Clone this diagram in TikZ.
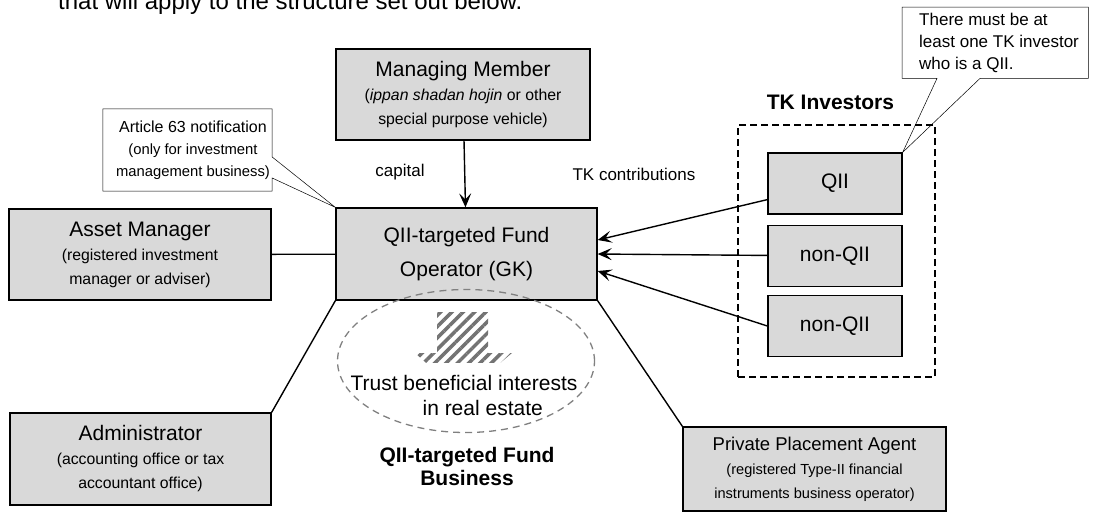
\documentclass[tikz,border=0pt]{standalone}
\usepackage{fontspec}
\setmainfont{Liberation Sans}
\usepackage{tikz}
\usetikzlibrary{shapes.geometric, arrows.meta, patterns.meta}
\newcommand{\subtxt}[1]{{\fontsize{15.8}{24}\selectfont #1}}
\tikzstyle{entity}   = [rectangle, draw=black, line width=1.3pt, fill=black!15,
                        inner sep=0pt, align=center,
                        font=\fontsize{21}{24}\selectfont]
\tikzstyle{investor} = [entity, minimum width=134pt, minimum height=61pt]
\tikzstyle{note}     = [inner sep=0pt, font=\fontsize{17}{22}\selectfont]
\tikzstyle{outline}  = [draw=black, line width=0.5pt]
\tikzstyle{arrow}    = [line width=1.4pt, -{Stealth[length=14pt, width=12pt, inset=6pt]}]
\tikzstyle{link}     = [line width=1.4pt]
\begin{document}
\begin{tikzpicture}[x=1pt, y=-1pt]
  \useasboundingbox (0,0) rectangle (1107,515);

  % Intro line (cut off at the top)
  \node[anchor=base west, inner sep=0pt, font=\fontsize{24}{28}\selectfont]
        (intro) at (58,9) {that will apply to the structure set out below.};

  % Managing member
  \node[entity, minimum width=254pt, minimum height=91pt] (member) at (463,94.5)
        {Managing Member\\ \subtxt{(\textit{ippan shadan hojin} or other}\\
         \subtxt{special purpose vehicle)}};

  % Fund operator
  \node[entity, minimum width=261pt, minimum height=92pt,
        font=\fontsize{21}{34}\selectfont] (fund) at (466.5,254)
        {QII-targeted Fund\\Operator (GK)};
  \draw[arrow] (member) -- (fund);
  \node[font=\fontsize{17}{20}\selectfont] (capital) at (400,172) {capital};

  % Asset manager
  \node[entity, minimum width=262pt, minimum height=91pt] (asset) at (140,254.5)
        {Asset Manager\\ \subtxt{(registered investment}\\ \subtxt{manager or adviser)}};
  \draw[link] (asset) -- (fund);

  % Article 63 callout
  \node[note, minimum width=169pt, minimum height=82pt] (article) at (187.5,150) {};
  \node[note, align=center, font=\fontsize{16}{22}\selectfont] (articletext)
        at (193,150)
        {Article 63 notification\\
         {\fontsize{14.8}{22}\selectfont (only for investment}\\
         {\fontsize{14.8}{22}\selectfont management business)}};
  \draw[outline] (article.north west) -- (article.north east)
        -- ([yshift=-7pt]article.east) -- (fund.north west)
        -- ([yshift=-28pt]article.east) -- (article.south east)
        -- (article.south west) -- cycle;

  % Administrator
  \node[entity, minimum width=261pt, minimum height=92pt] (admin) at (140.5,459)
        {Administrator\\ \subtxt{(accounting office or tax}\\ \subtxt{accountant office)}};
  \draw[link] (admin.north east) -- (fund.south west);

  % Placement agent
  \node[entity, minimum width=263pt, minimum height=84pt,
        font=\fontsize{18.5}{24}\selectfont] (agent) at (814.5,469)
        {Private Placement Agent\\
         {\fontsize{14.6}{24}\selectfont (registered Type-II financial}\\
         {\fontsize{14.6}{24}\selectfont instruments business operator)}};
  \draw[link] (fund.south east) -- (agent.north west);

  % TK investors
  \node[draw=black, line width=1.3pt, dash pattern=on 7pt off 4pt,
        minimum width=197pt, minimum height=252pt] (group) at (836.5,251) {};
  \node[font=\bfseries\fontsize{21}{24}\selectfont] (tklabel) at (830.5,102)
        {TK Investors};
  \node[investor] (qii) at (835,183.5) {QII};
  \node[investor] (nonqiia) at (835,256) {non-QII};
  \node[investor] (nonqiib) at (835,326) {non-QII};

  \draw[arrow] (qii) -- ([yshift=14pt]fund.east);
  \draw[arrow] (nonqiia) -- (fund.east);
  \draw[arrow] (nonqiib.west) -- ([yshift=-17pt]fund.east);
  \node[font=\fontsize{17}{20}\selectfont] (contrib) at (634,174) {TK contributions};

  % QII callout
  \node[note, minimum width=186pt, minimum height=71pt, anchor=north west]
        (rule) at (902,7) {};
  \node[note, align=left, anchor=west] (ruletext) at ([xshift=17pt]rule.west)
        {There must be at\\least one TK investor\\who is a QII.};
  \draw[outline] (rule.north west) -- (rule.north east) -- (rule.south east)
        -- ([xshift=78pt]rule.south west) -- (qii.north east)
        -- ([xshift=35pt]rule.south west) -- (rule.south west) -- cycle;

  % Fund business
  \node[draw=black!50, line width=1.3pt, dash pattern=on 7pt off 5pt, ellipse,
        minimum width=257pt, minimum height=143pt] (pool) at (466,361) {};
  \begin{scope}
    \clip (400,300) rectangle (540,362);
    \fill[pattern={Lines[angle=45, distance=8pt, line width=3.5pt]},
          pattern color=black!55]
      (437,312) -- (488,312) -- (488,353) -- (512,353) -- (462,395)
      -- (415,353) -- (437,353) -- cycle;
  \end{scope}
  \node[align=left, inner sep=0pt, font=\fontsize{21}{25}\selectfont]
        (trust) at (464,395.5)
        {Trust beneficial interests\\\hspace*{72pt}in real estate};
  \node[align=center, font=\bfseries\fontsize{21}{23}\selectfont]
        (business) at (467,466.5) {QII-targeted Fund\\Business};

\end{tikzpicture}
\end{document}
